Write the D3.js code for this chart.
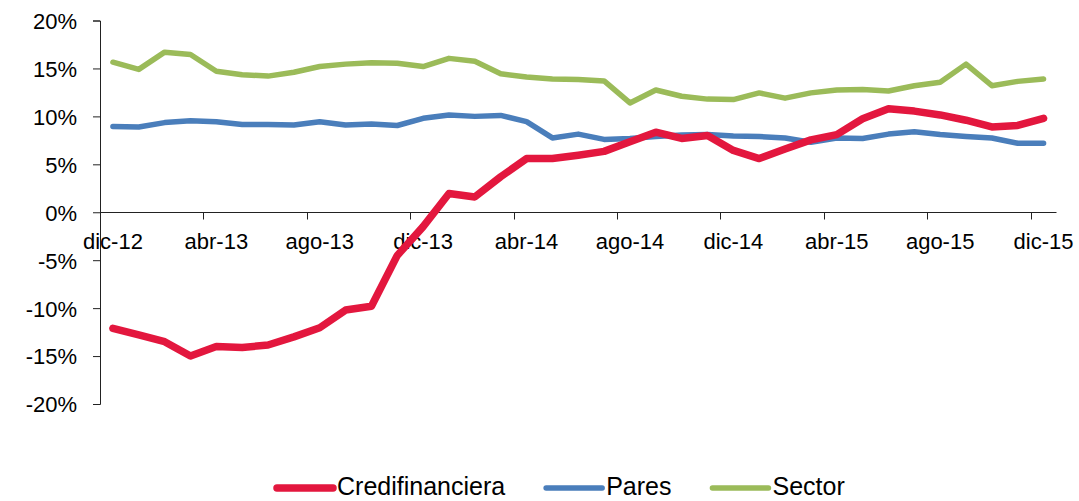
<html lang="es">
  <head>
    <meta charset="utf-8">
    <title>Credifinanciera vs Pares vs Sector</title>
    <script src="https://d3js.org/d3.v7.min.js"></script>
    <style>
      body { margin: 0; background: #fff; }
      text { font-family: "Liberation Sans", Arial, sans-serif; fill: #000; }
    </style>
  </head>
  <body>
    <div id="viz"></div>
    <script type="text/javascript">
    // monthly categories, dic-12 .. dic-15
    var months = ["dic-12","ene-13","feb-13","mar-13","abr-13","may-13","jun-13","jul-13","ago-13","sep-13","oct-13","nov-13",
                  "dic-13","ene-14","feb-14","mar-14","abr-14","may-14","jun-14","jul-14","ago-14","sep-14","oct-14","nov-14",
                  "dic-14","ene-15","feb-15","mar-15","abr-15","may-15","jun-15","jul-15","ago-15","sep-15","oct-15","nov-15",
                  "dic-15"];

    // values in percent
    var credifinanciera = [-12.1,-12.8,-13.5,-15.0,-14.0,-14.1,-13.85,-13.0,-12.05,-10.2,-9.8,-4.5,
                           -1.5,1.95,1.6,3.7,5.6,5.6,5.95,6.35,7.35,8.35,7.7,8.0,
                           6.45,5.6,6.6,7.55,8.1,9.75,10.8,10.55,10.15,9.6,8.9,9.05,9.8];
    var pares = [8.95,8.9,9.35,9.55,9.45,9.15,9.15,9.1,9.45,9.1,9.2,9.05,
                 9.8,10.15,10.0,10.1,9.45,7.75,8.15,7.6,7.7,7.9,8.05,8.1,
                 7.95,7.9,7.75,7.3,7.75,7.7,8.15,8.4,8.1,7.9,7.75,7.2,7.2];
    var sector = [15.65,14.9,16.7,16.45,14.7,14.35,14.2,14.6,15.2,15.45,15.6,15.55,
                  15.2,16.05,15.75,14.45,14.1,13.9,13.85,13.7,11.4,12.75,12.1,11.8,
                  11.75,12.45,11.9,12.45,12.75,12.8,12.65,13.2,13.55,15.45,13.2,13.65,13.9];

    var yTicks = [-20, -15, -10, -5, 0, 5, 10, 15, 20];
    var seriesNames = ["Credifinanciera", "Pares", "Sector"];
    var seriesValues = [credifinanciera, pares, sector];
    var colors = ["#E3173E", "#4A7EBB", "#9BBB59"];
    var widths = [7.5, 5.5, 5.5];

    var w = 1079, h = 501;

    var svg = d3.select("#viz").append("svg")
        .attr("width", w)
        .attr("height", h);

    // scales
    var x = d3.scaleBand()
        .domain(months)
        .range([100, 1056.5])
        .padding(0);
    var y = d3.scaleLinear()
        .domain([-20, 20])
        .range([404, 20.5]);

    // y axis
    var yAxis = d3.axisLeft(y)
        .tickValues(yTicks)
        .tickSize(7)
        .tickSizeOuter(7)
        .tickPadding(16)
        .tickFormat(function(d) { return d + "%"; });

    var gy = svg.append("g")
        .attr("transform", "translate(100,0)")
        .call(yAxis);
    gy.selectAll("path, line").attr("stroke", "#222").attr("stroke-width", 1);
    gy.selectAll("text")
        .style("font-size", "22px")
        .attr("fill", "#000")
        .attr("dy", "0.36em");

    // x axis at 0%
    var y0 = Math.round(y(0)) + 0.5;
    svg.append("line")
        .attr("x1", 100).attr("x2", x.range()[1])
        .attr("y1", y0).attr("y2", y0)
        .attr("stroke", "#222");

    var labelIdx = months.map(function(d, i) { return i; }).filter(function(i) { return i % 4 === 0; });

    // tick marks between categories, every 4 months
    svg.selectAll(".xtick")
        .data(labelIdx.filter(function(i) { return i > 0; }))
        .enter().append("line")
        .attr("class", "xtick")
        .attr("x1", function(i) { return Math.round(x(months[i])) + 0.5; })
        .attr("x2", function(i) { return Math.round(x(months[i])) + 0.5; })
        .attr("y1", y0).attr("y2", y0 + 7)
        .attr("stroke", "#222");

    svg.selectAll(".xlabel")
        .data(labelIdx)
        .enter().append("text")
        .attr("class", "xlabel")
        .attr("x", function(i) { return x(months[i]) + x.bandwidth() / 2; })
        .attr("y", y0 + 36)
        .attr("text-anchor", "middle")
        .style("font-size", "22px")
        .text(function(i) { return months[i]; });

    // lines
    var line = d3.line()
        .x(function(d, i) { return x(months[i]) + x.bandwidth() / 2; })
        .y(function(d) { return y(d); });

    // draw sector, pares first so credifinanciera sits on top where they cross
    [2, 1, 0].forEach(function(k) {
      svg.append("path")
        .datum(seriesValues[k])
        .attr("d", line)
        .attr("fill", "none")
        .attr("stroke", colors[k])
        .attr("stroke-width", widths[k])
        .attr("stroke-linejoin", "round")
        .attr("stroke-linecap", "round");
    });

    // legend
    var legend = svg.append("g");
    var lx = 277, ly = 488;
    seriesNames.forEach(function(name, k) {
      legend.append("line")
        .attr("x1", lx).attr("x2", lx + 56)
        .attr("y1", ly).attr("y2", ly)
        .attr("stroke", colors[k])
        .attr("stroke-width", widths[k])
        .attr("stroke-linecap", "round");
      var t = legend.append("text")
        .attr("x", lx + 60)
        .attr("y", ly + 7)
        .style("font-size", "25px")
        .text(name);
      lx = lx + 60 + t.node().getComputedTextLength() + 41;
    });
    </script>
  </body>
</html>
